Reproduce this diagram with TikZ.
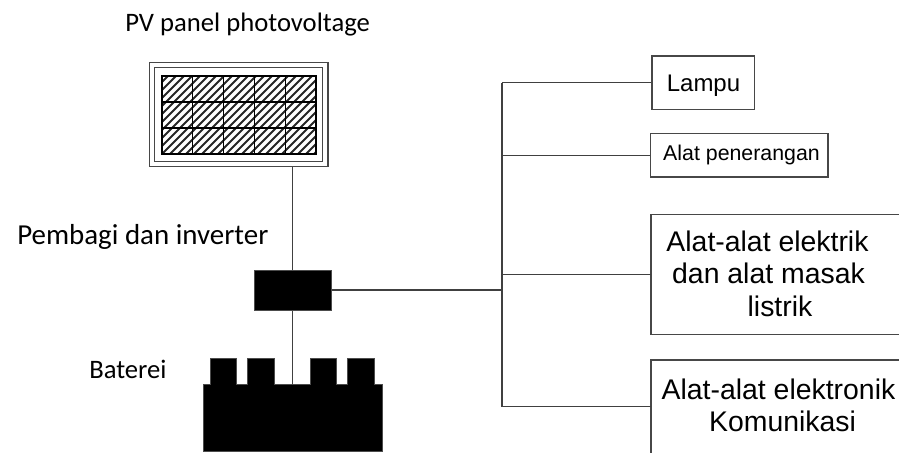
\documentclass[tikz,border=0pt]{standalone}
\usepackage{fontspec}
\setmainfont{Carlito}
\newfontfamily\arialf{Liberation Sans}
\tikzset{
  wire/.style={draw=black!75,line width=1pt},
  frame/.style={draw=black!72,line width=1.15pt},
  loadbox/.style={draw=black!72,line width=1.15pt,fill=white,inner sep=0pt,rectangle},
  solid/.style={fill=black,draw=black!70,line width=0.4pt},
  controlbox/.style={solid,inner sep=0pt,rectangle,minimum width=58.1pt,minimum height=30pt},
  celltxt/.style={font=\fontsize{20pt}{24pt}\selectfont,anchor=base west,inner sep=0pt},
  boxtxt/.style={font=\arialf\fontsize{21.3pt}{24.5pt}\selectfont,inner sep=0pt,anchor=base},
}
\begin{document}
\begin{tikzpicture}[x=0.75pt,y=-0.75pt]
\useasboundingbox (0,0) rectangle (899,453);
% panel
\draw[frame,line width=1.3pt] (149.5,62.5) rectangle (328,166.5);
\draw[frame] (154.5,67.5) rectangle (322.7,161.5);
\begin{scope}
\clip (162,76) rectangle (316,154);
\foreach \k in {-11,...,20} {
  \draw[black!85,line width=1.4pt] (162+\k*8,154) -- ++(78,-78);
}
\end{scope}
\draw[black,line width=1.2pt] (162,76) rectangle (316,154);
\foreach \xx in {192.5,223.5,254.5,285.5} \draw[black,line width=0.9pt] (\xx,76) -- (\xx,154);
\foreach \yy in {102,128} \draw[black,line width=0.9pt] (162,\yy) -- (316,\yy);
\coordinate (panelb) at (292.5,166.5);
% controller
\node[controlbox] (ctrl) at (292.8,290.3) {};
% battery
\path[solid] (203,451) -- (203,384.5) -- (210,384.5) -- (210,358.5) -- (236.5,358.5) -- (236.5,384.5) -- (247.5,384.5) -- (247.5,358.5) -- (274.5,358.5) -- (274.5,384.5) -- (310,384.5) -- (310,358.5) -- (336.5,358.5) -- (336.5,384.5) -- (347.5,384.5) -- (347.5,358.5) -- (374.5,358.5) -- (374.5,384.5) -- (382,384.5) -- (382,451) -- cycle;
\coordinate (batt) at (292.5,384.5);
\draw[wire] (panelb) -- (ctrl.north -| panelb);
\draw[wire] (ctrl.south -| batt) -- (batt);
% bus
\coordinate (bustop) at (502,82.7);
\coordinate (busbot) at (502,406.5);
\coordinate (busmid) at (502,290);
\draw[wire] (ctrl.east |- busmid) -- (busmid);
\draw[wire,line width=1.2pt] (bustop) -- (busbot);
% loads
\node[loadbox,minimum width=77pt,minimum height=40pt] (lampu) at (703.3,82.7) {};
\node[font=\arialf\fontsize{18pt}{20pt}\selectfont,inner sep=0pt,anchor=base] (lampuT) at (703.5,91) {Lampu};
\node[loadbox,minimum width=133pt,minimum height=32.6pt] (alat) at (739.3,155) {};
\node[font=\arialf\fontsize{16pt}{18pt}\selectfont,inner sep=0pt,anchor=base] (alatT) at (741.5,160) {Alat penerangan};
\draw[wire] (bustop) -- (lampu.west |- bustop);
\draw[wire] (502,155.3) -- (alat.west |- 502,155.3);
% cut-off boxes
\coordinate (e1) at (899,214.5);
\coordinate (e2) at (651,214.5);
\coordinate (e3) at (651,334.5);
\coordinate (e4) at (899,334.5);
\draw[frame] (e1) -- (e2) -- (e3) -- (e4);
\coordinate (k1) at (899,360);
\coordinate (k2) at (651,360);
\coordinate (k3) at (651,453);
\draw[frame] (k1) -- (k2) -- (k3);
\draw[wire] (502,274.7) -- (651,274.7);
\draw[wire] (busbot) -- (651,406.5);
\node[boxtxt] (t1) at (767.5,251) {Alat-alat elektrik};
\node[boxtxt] (t2) at (768.5,283) {dan alat masak};
\node[boxtxt] (t3) at (780,316) {listrik};
\node[boxtxt] (t4) at (778.5,399) {Alat-alat elektronik};
\node[boxtxt] (t5) at (782.5,431) {Komunikasi};
% labels
\node[celltxt] (pv) at (125,32) {PV panel photovoltage};
\node[celltxt,font=\fontsize{21.7pt}{26pt}\selectfont] (inv) at (17,244) {Pembagi dan inverter};
\node[celltxt] (bat) at (89,378) {Baterei};
\end{tikzpicture}
\end{document}
